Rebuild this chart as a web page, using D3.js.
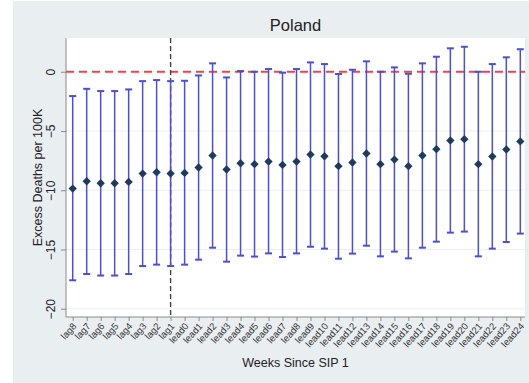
<!DOCTYPE html>
<html>
<head>
<meta charset="utf-8">
<script src="https://cdn.jsdelivr.net/npm/d3@7"></script>
<style>
  html, body { margin: 0; padding: 0; background: #ffffff; }
  svg { display: block; font-family: "Liberation Sans", Arial, Helvetica, sans-serif; }
</style>
</head>
<body>
<svg id="chart" width="529" height="383"></svg>
<script>
// Event-study categories: weeks before (lag) and after (lead) the first shelter-in-place order
const periods = ["lag8","lag7","lag6","lag5","lag4","lag3","lag2","lag1",
  "lead0","lead1","lead2","lead3","lead4","lead5","lead6","lead7","lead8","lead9","lead10",
  "lead11","lead12","lead13","lead14","lead15","lead16","lead17","lead18","lead19","lead20",
  "lead21","lead22","lead23","lead24"];

// Point estimates (excess deaths per 100K)
const estimate = [-9.86,-9.24,-9.41,-9.41,-9.30,-8.59,-8.48,-8.59,
  -8.54,-8.08,-7.07,-8.25,-7.72,-7.80,-7.58,-7.86,-7.58,-6.99,-7.13,
  -7.97,-7.66,-6.90,-7.80,-7.41,-7.97,-7.07,-6.53,-5.80,-5.69,
  -7.80,-7.15,-6.56,-5.88];

// 95% confidence interval bounds
const lower = [-17.60,-17.07,-17.20,-17.20,-17.07,-16.40,-16.28,-16.40,
  -16.28,-15.86,-14.85,-16.03,-15.52,-15.60,-15.33,-15.64,-15.33,-14.77,-14.93,
  -15.78,-15.35,-14.68,-15.58,-15.18,-15.75,-14.85,-14.34,-13.58,-13.49,
  -15.58,-14.93,-14.37,-13.66];
const upper = [-2.05,-1.44,-1.63,-1.63,-1.49,-0.79,-0.70,-0.79,
  -0.76,-0.31,0.71,-0.48,0.06,0.00,0.23,-0.08,0.23,0.79,0.65,
  -0.19,0.17,0.88,0.00,0.37,-0.17,0.71,1.27,1.98,2.11,
  0.00,0.65,1.22,1.90];

const yTicks = [0, -5, -10, -15, -20];
const eventPeriod = "lag1";   // reference line marking the policy week
const titleText = "Poland";
const xTitle = "Weeks Since SIP 1";
const yTitle = "Excess Deaths per 100K";

const rows = periods.map((p, i) => ({ p, est: estimate[i], lo: lower[i], hi: upper[i] }));

const W = 529, H = 383;
const plot = { left: 66, top: 38, right: 525, bottom: 317 };

const svg = d3.select("#chart");

// Outer graph region
svg.append("rect").attr("x", 0).attr("y", 0).attr("width", W).attr("height", H).attr("fill", "#ffffff");
svg.append("rect").attr("x", 13).attr("y", 1).attr("width", W - 13).attr("height", H - 1).attr("fill", "#e9eef1");
// Plot region
svg.append("rect")
  .attr("x", plot.left).attr("y", plot.top)
  .attr("width", plot.right - plot.left).attr("height", plot.bottom - plot.top)
  .attr("fill", "#ffffff");

const x = d3.scalePoint().domain(periods).range([plot.left + 6.7, plot.right - 4.7]);
const y = d3.scaleLinear().domain([-20.7, 2.85]).range([plot.bottom, plot.top]);

// Horizontal grid lines
svg.append("g").selectAll("line").data(yTicks).join("line")
  .attr("x1", plot.left).attr("x2", plot.right)
  .attr("y1", d => y(d)).attr("y2", d => y(d))
  .attr("stroke", "#eceff1").attr("stroke-width", 1);

// Y axis
const yAxis = svg.append("g").attr("transform", `translate(${plot.left},0)`)
  .call(d3.axisLeft(y).tickValues(yTicks).tickSize(5).tickPadding(0).tickFormat(d3.format("d")));
yAxis.select(".domain").attr("stroke", "#8a8a8a").attr("d", `M0,${plot.top}V${plot.bottom}`);
yAxis.selectAll(".tick line").attr("stroke", "#8a8a8a");
yAxis.selectAll(".tick text")
  .attr("x", 0).attr("dy", null)
  .attr("transform", "translate(-11,0) rotate(-90)")
  .attr("text-anchor", "middle")
  .attr("font-size", 12).attr("fill", "#222");

// X axis
const xAxis = svg.append("g").attr("transform", `translate(0,${plot.bottom})`)
  .call(d3.axisBottom(x).tickSize(4).tickPadding(0));
xAxis.select(".domain").attr("stroke", "#8a8a8a").attr("d", `M${plot.left},0H${plot.right}`);
xAxis.selectAll(".tick line").attr("stroke", "#8a8a8a");
xAxis.selectAll(".tick text")
  .attr("y", 0).attr("dy", null)
  .attr("transform", "translate(2,8) rotate(-48)")
  .attr("text-anchor", "end")
  .attr("dominant-baseline", "middle")
  .attr("font-size", 9.5).attr("fill", "#333");

// Zero reference line
svg.append("line")
  .attr("x1", plot.left).attr("x2", plot.right)
  .attr("y1", y(0)).attr("y2", y(0))
  .attr("stroke", "#e8474a").attr("stroke-width", 2).attr("stroke-dasharray", "8,5");

// Policy week reference line
svg.append("line")
  .attr("x1", x(eventPeriod)).attr("x2", x(eventPeriod))
  .attr("y1", plot.top).attr("y2", plot.bottom)
  .attr("stroke", "#444").attr("stroke-width", 1.4).attr("stroke-dasharray", "5,3");

// Confidence intervals with caps
const ci = svg.append("g").attr("stroke", "#4a4fd3").attr("stroke-width", 1.5);
ci.selectAll("line.bar").data(rows).join("line").attr("class", "bar")
  .attr("x1", d => x(d.p)).attr("x2", d => x(d.p))
  .attr("y1", d => y(d.lo)).attr("y2", d => y(d.hi));
ci.selectAll("line.capHi").data(rows).join("line").attr("class", "capHi")
  .attr("x1", d => x(d.p) - 3.5).attr("x2", d => x(d.p) + 3.5)
  .attr("y1", d => y(d.hi)).attr("y2", d => y(d.hi)).attr("stroke-width", 2);
ci.selectAll("line.capLo").data(rows).join("line").attr("class", "capLo")
  .attr("x1", d => x(d.p) - 3.5).attr("x2", d => x(d.p) + 3.5)
  .attr("y1", d => y(d.lo)).attr("y2", d => y(d.lo)).attr("stroke-width", 2);

// Point estimates
const diamond = d3.symbol(d3.symbolDiamond2, 44);
svg.append("g").selectAll("path").data(rows).join("path")
  .attr("d", diamond)
  .attr("transform", d => `translate(${x(d.p)},${y(d.est)})`)
  .attr("fill", "#1d3a5f");

// Titles
svg.append("text").attr("x", (plot.left + plot.right) / 2).attr("y", 31)
  .attr("text-anchor", "middle").attr("font-size", 16.5).attr("fill", "#222").text(titleText);
svg.append("text").attr("x", (plot.left + plot.right) / 2).attr("y", 367)
  .attr("text-anchor", "middle").attr("font-size", 12.5).attr("fill", "#222").text(xTitle);
svg.append("text")
  .attr("transform", `translate(42,${(plot.top + plot.bottom) / 2}) rotate(-90)`)
  .attr("text-anchor", "middle").attr("font-size", 12.5).attr("fill", "#222").text(yTitle);
</script>
</body>
</html>
